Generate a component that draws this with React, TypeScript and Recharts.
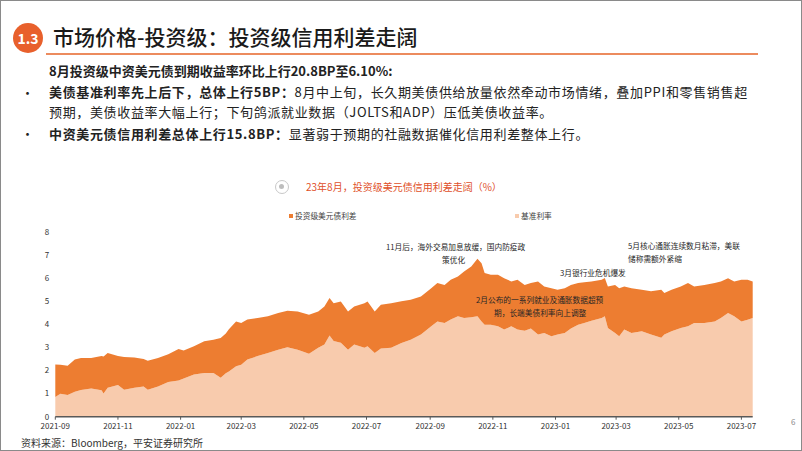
import { AreaChart, Area, XAxis, YAxis } from 'recharts'

// 日期 / 到期收益率(%) / 基准利率(%)，利差 = 收益率 - 基准
const dates = [
  '2021-09-01', '2021-09-06', '2021-09-13', '2021-09-20', '2021-09-26', '2021-10-06', '2021-10-16', '2021-10-18',
  '2021-10-22', '2021-11-01', '2021-11-07', '2021-11-17', '2021-11-26', '2021-11-30', '2021-12-10', '2021-12-20',
  '2021-12-30', '2022-01-04', '2022-01-14', '2022-01-24', '2022-02-02', '2022-02-09', '2022-02-14', '2022-02-17',
  '2022-02-24', '2022-03-01', '2022-03-07', '2022-03-17', '2022-03-27', '2022-04-06', '2022-04-15', '2022-04-25',
  '2022-05-06', '2022-05-15', '2022-05-21', '2022-05-26', '2022-05-30', '2022-06-06', '2022-06-13', '2022-06-19',
  '2022-06-29', '2022-07-02', '2022-07-09', '2022-07-15', '2022-07-25', '2022-08-04', '2022-08-13', '2022-08-23',
  '2022-09-02', '2022-09-08', '2022-09-15', '2022-09-21', '2022-09-28', '2022-10-04', '2022-10-11', '2022-10-17',
  '2022-10-21', '2022-10-24', '2022-10-30', '2022-11-06', '2022-11-12', '2022-11-19', '2022-11-25', '2022-12-02',
  '2022-12-08', '2022-12-15', '2022-12-21', '2022-12-28', '2023-01-03', '2023-01-10', '2023-01-16', '2023-01-23',
  '2023-01-29', '2023-02-05', '2023-02-15', '2023-02-18', '2023-02-21', '2023-02-28', '2023-03-04', '2023-03-09',
  '2023-03-16', '2023-03-26', '2023-04-04', '2023-04-14', '2023-04-17', '2023-04-24', '2023-05-03', '2023-05-10',
  '2023-05-16', '2023-05-26', '2023-06-05', '2023-06-11', '2023-06-18', '2023-06-24', '2023-07-01', '2023-07-07',
  '2023-07-12',
]

const ytm = [
  2.26, 2.25, 2.2, 2.47, 2.54, 2.54, 2.62, 2.6,
  2.76, 2.62, 2.58, 2.56, 2.5, 2.42, 2.54, 2.7,
  2.93, 2.86, 3.05, 3.26, 3.33, 3.4, 3.6, 3.78,
  4.12, 4.05, 4.2, 4.27, 4.34, 4.48, 4.58, 4.55,
  4.41, 4.55, 4.77, 5.13, 4.91, 4.98, 4.55, 4.77,
  4.91, 4.98, 4.55, 4.84, 4.91, 4.99, 5.06, 5.2,
  5.56, 5.78, 5.7, 5.92, 6.06, 6.28, 6.5, 6.83,
  6.64, 6.21, 6.14, 6.14, 5.99, 5.85, 5.92, 5.7,
  5.78, 5.85, 5.63, 5.56, 5.49, 5.56, 5.7, 5.78,
  5.81, 5.85, 5.92, 6.0, 5.63, 5.7, 5.56, 5.63,
  5.56, 5.49, 5.42, 5.49, 5.35, 5.49, 5.63, 5.78,
  5.63, 5.7, 5.78, 5.85, 5.99, 5.85, 5.92, 5.92,
  5.85,
]

const base = [
  0.85, 0.99, 0.94, 1.08, 1.15, 1.22, 1.14, 1.0,
  1.25, 1.37, 1.17, 1.25, 1.31, 1.17, 1.31, 1.5,
  1.57, 1.65, 1.82, 1.89, 1.89, 1.68, 1.88, 1.95,
  2.18, 2.25, 2.47, 2.62, 2.76, 2.9, 3.0, 2.9,
  2.72, 2.98, 3.12, 3.51, 3.27, 3.2, 2.9, 3.12,
  2.98, 3.05, 2.76, 2.95, 2.98, 3.19, 3.33, 3.55,
  3.91, 4.12, 4.05, 4.2, 4.34, 4.27, 4.3, 4.34,
  4.12, 3.98, 3.98, 3.91, 3.77, 3.91, 3.77, 3.72,
  3.81, 3.55, 3.62, 3.48, 3.55, 3.62, 3.81, 3.98,
  4.05, 4.15, 4.27, 4.34, 3.84, 3.62, 3.48, 3.77,
  3.62, 3.69, 3.55, 3.41, 3.55, 3.69, 3.84, 3.91,
  4.05, 4.05, 4.12, 4.27, 4.48, 4.34, 4.12, 4.19,
  4.27,
]

const xTickLabels = [
  '2021-09', '2021-11', '2022-01', '2022-03', '2022-05', '2022-07',
  '2022-09', '2022-11', '2023-01', '2023-03', '2023-05', '2023-07',
]
const yTicks = [0, 1, 2, 3, 4, 5, 6, 7, 8]

const toTime = (d: string) => new Date(d + 'T00:00:00Z').getTime()

const chartData = dates.map((d, i) => ({
  t: toTime(d),
  base: base[i],
  spread: +(ytm[i] - base[i]).toFixed(2),
}))

const DARK = '#ED7D31'
const LIGHT = '#F8CBAD'
const FONT = '"Noto Sans CJK SC", "Noto Sans", sans-serif'

const notes = [
  { text: '11月后，海外交易加息放缓，国内防疫政', x: 385, y: 240 },
  { text: '策优化', x: 441, y: 253 },
  { text: '3月银行业危机爆发', x: 559, y: 266 },
  { text: '5月核心通胀连续数月粘滞，美联', x: 627, y: 239 },
  { text: '储称需额外紧缩', x: 627, y: 252 },
  { text: '2月公布的一系列就业及通胀数据超预', x: 475, y: 293 },
  { text: '期，长端美债利率向上调整', x: 493, y: 306 },
]

const bodyLine = { position: 'absolute' as const, left: 48, fontSize: 13, lineHeight: '16px', letterSpacing: 0.65, whiteSpace: 'nowrap' as const }

function App() {
  return (
    <div
      style={{
        position: 'absolute', left: 0, top: 0, width: 802, height: 451, boxSizing: 'border-box',
        border: '1px solid #8a8a8a', background: '#fff', fontFamily: FONT, color: '#222', overflow: 'hidden',
      }}
    >
      {/* 标题栏 */}
      <div style={{ position: 'absolute', left: 12, top: 22, width: 30, height: 30, borderRadius: '50%', background: '#E8602C',
        color: '#fff', fontWeight: 700, fontSize: 14, lineHeight: '30px', textAlign: 'center' }}>1.3</div>
      <div style={{ position: 'absolute', left: 52, top: 21, fontSize: 21, lineHeight: '28px', fontWeight: 500, color: '#1a1a1a', whiteSpace: 'nowrap' }}>
        市场价格-投资级：投资级信用利差走阔
      </div>
      <div style={{ position: 'absolute', left: 45, top: 52, width: 712, height: 2, background: '#EC8B5E' }} />

      <div style={{ position: 'absolute', left: 48, top: 62, fontSize: 13, lineHeight: '16px', fontWeight: 700, whiteSpace: 'nowrap' }}>
        8月投资级中资美元债到期收益率环比上行20.8BP至6.10%:
      </div>
      <div style={{ position: 'absolute', left: 20, top: 84, fontSize: 13, lineHeight: '16px' }}>•</div>
      <div style={{ ...bodyLine, top: 83 }}>
        <b>美债基准利率先上后下，总体上行5BP：</b>8月中上旬，长久期美债供给放量依然牵动市场情绪，叠加PPI和零售销售超
      </div>
      <div style={{ ...bodyLine, top: 103 }}>
        预期，美债收益率大幅上行；下旬鸽派就业数据（JOLTS和ADP）压低美债收益率。
      </div>
      <div style={{ position: 'absolute', left: 20, top: 125, fontSize: 13, lineHeight: '16px' }}>•</div>
      <div style={{ ...bodyLine, top: 125 }}>
        <b>中资美元债信用利差总体上行15.8BP：</b>显著弱于预期的社融数据催化信用利差整体上行。
      </div>

      {/* 图表标题与图例 */}
      <div style={{ position: 'absolute', left: 274, top: 179, width: 14, height: 14, borderRadius: '50%', border: '1.5px solid #c8c8c8',
        boxSizing: 'border-box' }}>
        <div style={{ position: 'absolute', left: 3, top: 3, width: 5, height: 5, borderRadius: '50%', background: '#bdbdbd' }} />
      </div>
      <div style={{ position: 'absolute', left: 305, top: 179, fontSize: 10, lineHeight: '14px', color: '#E0502A', whiteSpace: 'nowrap' }}>
        23年8月，投资级美元债信用利差走阔（%）
      </div>
      <div style={{ position: 'absolute', left: 288, top: 209, fontSize: 7.7, lineHeight: '12px', color: '#404040', whiteSpace: 'nowrap', display: 'flex', alignItems: 'center' }}>
        <span style={{ width: 4, height: 4, background: DARK, marginRight: 2 }} />投资级美元债利差
      </div>
      <div style={{ position: 'absolute', left: 514, top: 209, fontSize: 7.7, lineHeight: '12px', color: '#404040', whiteSpace: 'nowrap', display: 'flex', alignItems: 'center' }}>
        <span style={{ width: 4, height: 4, background: LIGHT, marginRight: 2 }} />基准利率
      </div>

      <div style={{ position: 'absolute', left: 0, top: 0 }}>
        <AreaChart width={802} height={451} data={chartData} margin={{ top: 230.7, right: 50.3, bottom: 15.3, left: 34.3 }}>
          <XAxis
            dataKey="t"
            type="number"
            scale="time"
            domain={[toTime('2021-09-01'), toTime('2023-07-12')]}
            ticks={xTickLabels.map((m) => toTime(m + '-01'))}
            tickFormatter={(v: number) => new Date(v).toISOString().slice(0, 7)}
            height={20}
            tickSize={3}
            tickMargin={4}
            axisLine={{ stroke: '#595959', strokeWidth: 1.5 }}
            tickLine={{ stroke: '#595959' }}
            tick={{ fontSize: 8, fill: '#333', fontFamily: FONT }}
          />
          <YAxis
            domain={[0, 8]}
            ticks={yTicks}
            width={20}
            axisLine={false}
            tickLine={false}
            tickSize={0}
            tickMargin={6}
            tick={{ fontSize: 8, fill: '#333', fontFamily: FONT }}
          />
          <Area type="linear" dataKey="base" stackId="a" stroke="none" fill={LIGHT} fillOpacity={1} isAnimationActive={false} />
          <Area type="linear" dataKey="spread" stackId="a" stroke="none" fill={DARK} fillOpacity={1} isAnimationActive={false} />
        </AreaChart>
      </div>

      {notes.map((n) => (
        <div key={n.text} style={{ position: 'absolute', left: n.x, top: n.y, fontSize: 7.7, lineHeight: '11px', color: '#262626', whiteSpace: 'nowrap' }}>
          {n.text}
        </div>
      ))}

      <div style={{ position: 'absolute', left: 20, top: 435, fontSize: 10, lineHeight: '14px', color: '#333', whiteSpace: 'nowrap' }}>
        资料来源：Bloomberg，平安证券研究所
      </div>
      <div style={{ position: 'absolute', left: 790, top: 415, fontSize: 8, lineHeight: '12px', color: '#888' }}>6</div>
    </div>
  )
}

export default App
